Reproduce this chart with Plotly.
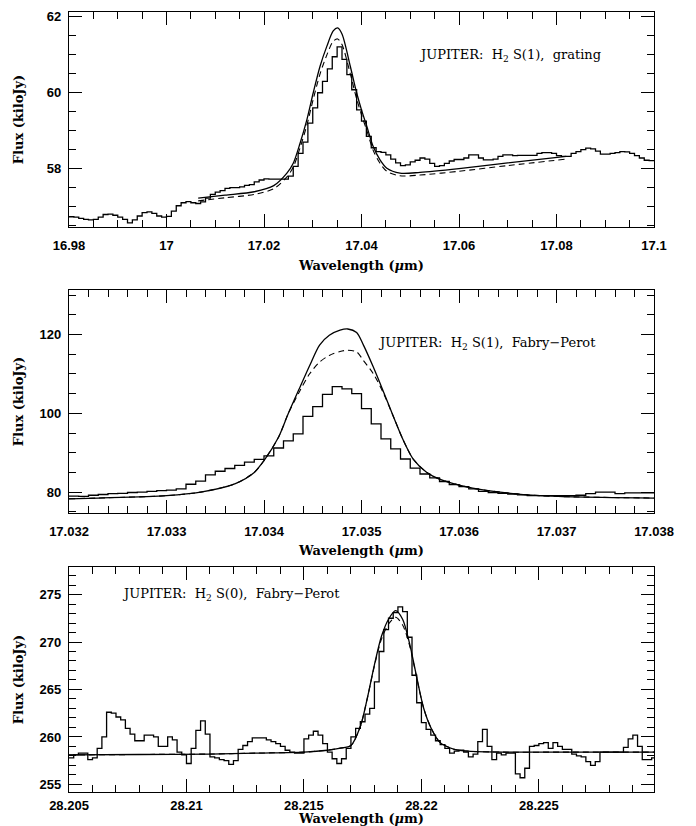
import numpy as np
import plotly.graph_objects as go

# ---------------- Panel 1: H2 S(1), grating ----------------
p1_start = 16.980
p1_step = 0.001
p1_flux = [56.73, 56.72, 56.69, 56.66, 56.65, 56.66, 56.72, 56.79, 56.80, 56.77,
           56.72, 56.66, 56.57, 56.65, 56.75, 56.84, 56.86, 56.82, 56.75, 56.72,
           56.74, 56.88, 57.02, 57.10, 57.13, 57.10, 57.08, 57.12, 57.22, 57.32,
           57.38, 57.42, 57.48, 57.50, 57.50, 57.52, 57.56, 57.58, 57.65, 57.70,
           57.73, 57.72, 57.72, 57.72, 57.72, 57.80, 58.06, 58.40, 58.70, 59.20,
           59.60, 60.00, 60.30, 60.63, 60.95, 61.21, 60.88, 60.48, 60.08, 59.55,
           59.25, 58.85, 58.55, 58.45, 58.43, 58.36, 58.25, 58.15, 58.08, 58.10,
           58.18, 58.22, 58.28, 58.25, 58.14, 58.06, 58.08, 58.14, 58.20, 58.24,
           58.24, 58.28, 58.36, 58.36, 58.28, 58.23, 58.23, 58.25, 58.32, 58.36,
           58.36, 58.34, 58.35, 58.35, 58.35, 58.35, 58.40, 58.42, 58.42, 58.40,
           58.34, 58.32, 58.32, 58.40, 58.45, 58.50, 58.54, 58.52, 58.46, 58.38,
           58.38, 58.40, 58.42, 58.45, 58.44, 58.40, 58.34, 58.28, 58.22, 58.21,
           58.21]
p1_model_wl = [17.0065, 17.012, 17.018, 17.022, 17.0247, 17.026, 17.0274, 17.0288,
               17.0301, 17.0315, 17.0329, 17.0342, 17.0351, 17.036, 17.0377, 17.039,
               17.040, 17.0411, 17.0424, 17.0438, 17.0452, 17.0479, 17.052, 17.060,
               17.070, 17.082]
p1_model_solid = [57.22, 57.30, 57.39, 57.55, 57.88, 58.14, 58.67, 59.29, 60.00, 60.70,
                  61.23, 61.63, 61.71, 61.55, 60.70, 60.00, 59.55, 59.11, 58.58, 58.23,
                  58.01, 57.88, 57.90, 58.00, 58.15, 58.32]
p1_model_dashed = [57.15, 57.23, 57.32, 57.47, 57.78, 58.04, 58.55, 59.15, 59.83, 60.50,
                   61.00, 61.36, 61.42, 61.27, 60.50, 59.84, 59.42, 59.00, 58.48, 58.14,
                   57.93, 57.81, 57.83, 57.93, 58.08, 58.25]
p1_xticks = [16.98, 17.0, 17.02, 17.04, 17.06, 17.08, 17.1]
p1_xlabels = ["16.98", "17", "17.02", "17.04", "17.06", "17.08", "17.1"]
p1_yticks = [58, 60, 62]
p1_ylabels = ["58", "60", "62"]

# ---------------- Panel 2: H2 S(1), Fabry-Perot ----------------
p2_start = 17.0320
p2_step = 0.0001
p2_flux = [79.0, 78.9, 79.2, 79.4, 79.6, 79.7, 79.9, 80.0, 80.2, 80.4,
           80.5, 80.8, 82.0, 82.8, 84.4, 85.3, 86.0, 86.8, 87.6, 88.3,
           89.2, 91.2, 93.0, 94.8, 99.2, 101.7, 104.8, 106.8, 106.2, 105.0,
           101.2, 97.3, 93.5, 91.0, 88.4, 86.1, 84.6, 83.6, 82.7, 81.9,
           81.4, 80.8, 80.2, 79.9, 79.7, 79.5, 79.3, 79.1, 79.1, 79.1,
           79.1, 79.1, 79.2, 79.6, 80.0, 80.0, 79.6, 79.8, 79.8, 79.8, 79.8]
p2_model_wl = [17.0320, 17.0323, 17.0330, 17.03335, 17.0337, 17.0339, 17.0340, 17.03415,
               17.03425, 17.03437, 17.03447, 17.03457, 17.03467, 17.03478, 17.03486,
               17.03495, 17.03502, 17.03512, 17.03522, 17.03533, 17.03543, 17.03553,
               17.03567, 17.0358, 17.03614, 17.03649, 17.03683, 17.03717, 17.0380]
p2_model_solid = [78.3, 78.5, 79.1, 80.0, 82.1, 85.0, 88.0, 94.0, 100.0, 106.7,
                  112.2, 117.3, 119.8, 121.1, 121.4, 120.5, 117.3, 111.8, 105.8, 99.0,
                  93.1, 88.4, 85.0, 83.3, 81.0, 79.8, 79.1, 78.8, 78.5]
p2_model_dashed = [78.3, 78.5, 79.1, 80.0, 82.1, 85.0, 88.0, 94.0, 100.0, 105.8,
                   110.1, 113.0, 114.7, 115.7, 116.0, 115.6, 113.4, 110.1, 105.4, 99.0,
                   93.1, 88.4, 85.0, 83.3, 81.0, 79.8, 79.1, 78.8, 78.5]
p2_xticks = [17.032, 17.033, 17.034, 17.035, 17.036, 17.037, 17.038]
p2_xlabels = ["17.032", "17.033", "17.034", "17.035", "17.036", "17.037", "17.038"]
p2_yticks = [80, 100, 120]
p2_ylabels = ["80", "100", "120"]

# ---------------- Panel 3: H2 S(0), Fabry-Perot ----------------
p3_start = 28.2050
p3_step = 0.0002
p3_flux = [257.8, 258.1, 258.3, 258.3, 257.6, 257.8, 258.8, 260.0, 262.6, 262.5,
           262.1, 261.8, 260.9, 260.3, 259.6, 259.6, 260.2, 260.2, 260.0, 259.0,
           259.0, 260.0, 259.7, 258.4, 258.1, 257.2, 258.8, 260.7, 261.7, 260.3,
           257.9, 257.8, 257.6, 257.5, 257.1, 257.5, 258.7, 259.1, 259.5, 259.9,
           259.9, 259.9, 259.7, 259.5, 259.3, 259.0, 258.6, 258.4, 258.3, 258.3,
           259.8, 260.2, 260.6, 260.2, 259.3, 258.4, 257.7, 257.2, 257.7, 258.8,
           260.0, 260.9, 261.6, 262.4, 263.0, 265.8, 269.0, 271.3, 272.5, 273.1,
           273.7, 273.2, 270.5, 266.5, 263.6, 261.5, 260.8, 260.2, 259.6, 259.2,
           258.8, 258.3, 258.5, 258.6, 258.4, 257.9, 258.2, 259.5, 260.8, 259.0,
           257.6, 258.3, 258.1, 258.3, 258.3, 256.1, 255.7, 256.7, 259.0, 259.1,
           259.3, 259.4, 258.8, 259.4, 259.0, 258.7, 258.7, 258.2, 258.0, 257.9,
           257.4, 257.0, 257.4, 258.4, 258.4, 258.4, 258.4, 258.4, 258.9, 259.8,
           260.2, 259.0, 257.6, 257.6, 257.8, 257.8]
p3_model_wl = [28.205, 28.208, 28.211, 28.213, 28.215, 28.216, 28.2165, 28.217,
               28.2174, 28.2177, 28.218, 28.2183, 28.2186, 28.2189, 28.2192, 28.2195,
               28.2198, 28.2201, 28.2204, 28.2208, 28.2214, 28.222, 28.2235, 28.226,
               28.230]
p3_model_solid = [258.1, 258.15, 258.2, 258.3, 258.4, 258.6, 258.8, 259.1,
                  261.1, 264.1, 267.6, 270.6, 272.4, 273.3, 272.4, 269.8,
                  266.3, 263.0, 261.0, 259.4, 258.7, 258.5, 258.4, 258.4, 258.4]
p3_model_dashed = [258.1, 258.15, 258.2, 258.3, 258.4, 258.6, 258.8, 259.1,
                   261.1, 264.1, 267.5, 270.3, 271.9, 272.6, 271.8, 269.6,
                   266.2, 263.0, 261.0, 259.4, 258.7, 258.5, 258.4, 258.4, 258.4]
p3_xticks = [28.205, 28.21, 28.215, 28.22, 28.225]
p3_xlabels = ["28.205", "28.21", "28.215", "28.22", "28.225"]
p3_yticks = [255, 260, 265, 270, 275]
p3_ylabels = ["255", "260", "265", "270", "275"]

titles = ["JUPITER:  H<sub>2</sub> S(1),  grating",
          "JUPITER:  H<sub>2</sub> S(1),  Fabry\u2212Perot",
          "JUPITER:  H<sub>2</sub> S(0),  Fabry\u2212Perot"]

# The page adds an 8 px body margin; the figure is sized and laid out to compensate.
OFF = 8
W, H = 696 - OFF, 826 - OFF
fig = go.Figure()

panels = [
    (p1_start, p1_step, p1_flux, p1_model_wl, p1_model_solid, p1_model_dashed),
    (p2_start, p2_step, p2_flux, p2_model_wl, p2_model_solid, p2_model_dashed),
    (p3_start, p3_step, p3_flux, p3_model_wl, p3_model_solid, p3_model_dashed),
]
for i, (st, sp, fl, mw, ms, md) in enumerate(panels):
    ax = "" if i == 0 else str(i + 1)
    xw = st + sp * np.arange(len(fl))
    fig.add_trace(go.Scatter(x=xw, y=fl, mode="lines", line=dict(color="black", width=1.3, shape="hv"),
                             xaxis="x" + ax, yaxis="y" + ax, showlegend=False, hoverinfo="skip"))
    fig.add_trace(go.Scatter(x=mw, y=ms, mode="lines", line=dict(color="black", width=1.3, shape="spline", smoothing=0.8),
                             xaxis="x" + ax, yaxis="y" + ax, showlegend=False, hoverinfo="skip"))
    fig.add_trace(go.Scatter(x=mw, y=md, mode="lines", line=dict(color="black", width=1.1, shape="spline", smoothing=0.8, dash="6px,4px"),
                             xaxis="x" + ax, yaxis="y" + ax, showlegend=False, hoverinfo="skip"))

# layout geometry (target pixels in the page)
left, right = 69 - OFF, 654 - OFF
boxes = [(12 - OFF, 227 - OFF), (290 - OFF, 513 - OFF), (567 - OFF, 792 - OFF)]
xranges = [[16.98, 17.1], [17.032, 17.038], [28.205, 28.2299]]
yranges = [[56.46, 62.13], [74.7, 131.3], [254.2, 277.9]]
xminor = [0.005, 0.0002, 0.001]
yminor = [0.5, 5, 1]
xtv = [p1_xticks, p2_xticks, p3_xticks]
xtt = [p1_xlabels, p2_xlabels, p3_xlabels]
ytv = [p1_yticks, p2_yticks, p3_yticks]
ytt = [p1_ylabels, p2_ylabels, p3_ylabels]
ystand = [20, 12, 12]
xlabstand = [6, 6, 1]
xtitlestand = [9, 8, 3]

tickfont = dict(family="Liberation Sans", size=13, color="black", weight="bold")
titlefont = dict(family="DejaVu Serif", size=13, color="black", weight="bold")

layout = dict(width=W, height=H, margin=dict(l=0, r=0, t=0, b=0, autoexpand=False),
              paper_bgcolor="white", plot_bgcolor="white", showlegend=False)
annotations = []
for i in range(3):
    ax = "" if i == 0 else str(i + 1)
    top, bot = boxes[i]
    common = dict(showline=True, linecolor="black", linewidth=1.3, mirror="ticks",
                  ticks="inside", ticklen=13, tickwidth=1.2, tickcolor="black",
                  showgrid=False, zeroline=False, tickfont=tickfont, tickmode="array",
                  automargin=False)
    layout["xaxis" + ax] = dict(common, domain=[left / W, right / W], range=xranges[i],
                                anchor="y" + ax, tickvals=xtv[i], ticktext=xtt[i],
                                ticklabelstandoff=xlabstand[i],
                                minor=dict(ticks="inside", ticklen=7, tickwidth=1.2, tickcolor="black",
                                           dtick=xminor[i], tick0=xranges[i][0], showgrid=False),
                                title=dict(text="Wavelength (<i>\u03bc</i>m)", font=titlefont,
                                           standoff=xtitlestand[i]))
    layout["yaxis" + ax] = dict(common, domain=[1 - bot / H, 1 - top / H], range=yranges[i],
                                anchor="x" + ax, tickvals=ytv[i], ticktext=ytt[i],
                                ticklabelstandoff=4,
                                minor=dict(ticks="inside", ticklen=7, tickwidth=1.2, tickcolor="black",
                                           dtick=yminor[i], tick0=0, showgrid=False),
                                title=dict(text="Flux (kiloJy)", font=titlefont, standoff=ystand[i]))

ann_pos = [(0.595, 0.80), (0.525, 0.762), (0.087, 0.876)]
for i in range(3):
    ax = "" if i == 0 else str(i + 1)
    annotations.append(dict(text=titles[i], xref="x" + ax + " domain", yref="y" + ax + " domain",
                            x=ann_pos[i][0], y=ann_pos[i][1], xanchor="left", yanchor="middle",
                            showarrow=False, font=dict(family="DejaVu Serif", size=13, color="black")))
layout["annotations"] = annotations
fig.update_layout(**layout)
fig.write_html("out.html")
